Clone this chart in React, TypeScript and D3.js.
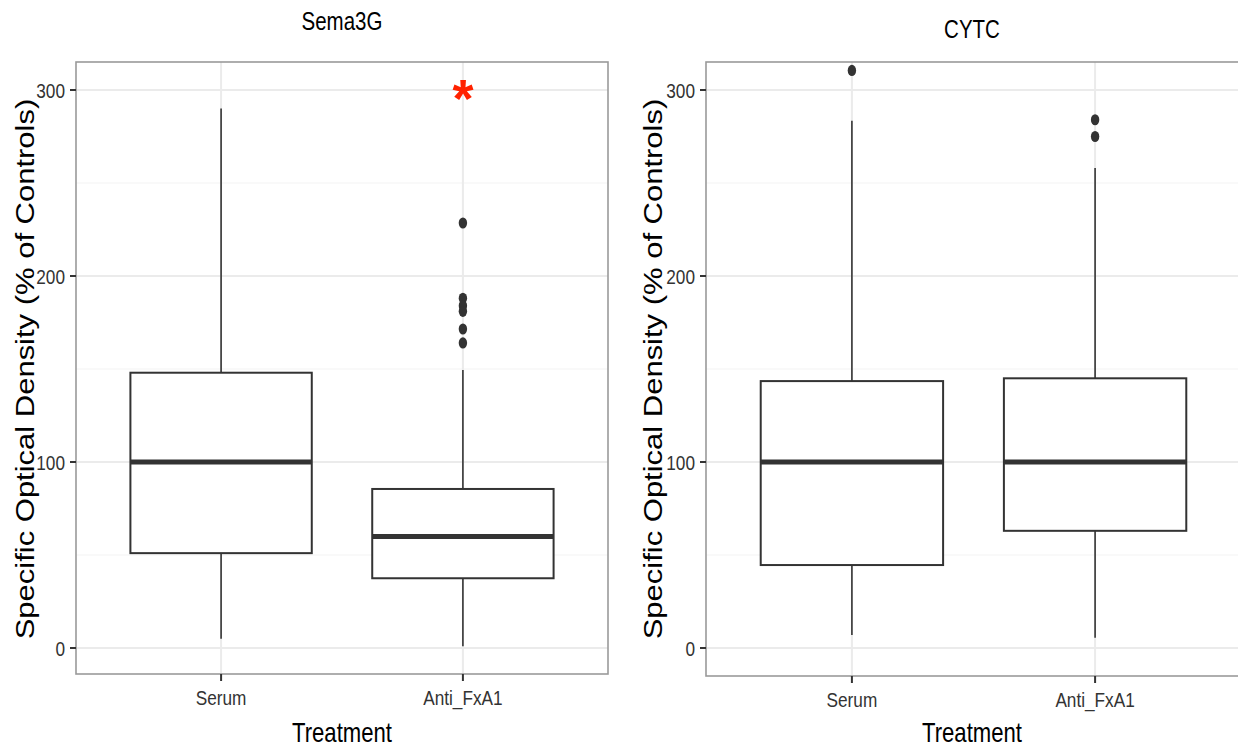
import { scaleLinear, scalePoint } from "d3";

// categories and box stats
const categories = ["Serum", "Anti_FxA1"];
const panelTitles = ["Sema3G", "CYTC"];

const sema3gWhiskerLow = [5, 1];
const sema3gQ1 = [51, 37.5];
const sema3gMedian = [100, 60];
const sema3gQ3 = [148, 85.5];
const sema3gWhiskerHigh = [290, 149.5];
const sema3gOutliers = [[], [228.5, 188, 184, 181, 171.5, 164]];
const sema3gStars = [null, 299];

const cytcWhiskerLow = [7, 5.5];
const cytcQ1 = [44.6, 63];
const cytcMedian = [100, 100];
const cytcQ3 = [143.5, 145];
const cytcWhiskerHigh = [283.5, 258];
const cytcOutliers = [[310.5], [284, 275]];
const cytcStars = [null, null];

const yTicks = [0, 100, 200, 300];
const yMinor = [50, 150, 250];

const W = 1238;
const H = 748;
const FONT = "'Liberation Sans', Arial, Helvetica, sans-serif";
const SX = 0.82; // the figure is squeezed horizontally

const buildRows = (lo, q1, med, q3, hi, outs, stars) =>
  categories.map((c, i) => ({
    cat: c,
    lo: lo[i],
    q1: q1[i],
    med: med[i],
    q3: q3[i],
    hi: hi[i],
    outliers: outs[i],
    star: stars[i],
  }));

const panelData = [
  buildRows(sema3gWhiskerLow, sema3gQ1, sema3gMedian, sema3gQ3, sema3gWhiskerHigh, sema3gOutliers, sema3gStars),
  buildRows(cytcWhiskerLow, cytcQ1, cytcMedian, cytcQ3, cytcWhiskerHigh, cytcOutliers, cytcStars),
];

const layouts = [
  { left: 76, right: 608, top: 62, bottom: 674, titleY: 30, yTitleX: 34 },
  { left: 706, right: 1241, top: 62, bottom: 676, titleY: 38, yTitleX: 662 },
];

const Panel = ({ title, rows, lay }) => {
  const x = scalePoint<string>()
    .domain(categories)
    .range([lay.left, lay.right])
    .padding(0.6);
  // zero and 300 sit at the same heights in both panels
  const y = scaleLinear().domain([0, 300]).range([648, 90]);
  const boxW = x.step() * 0.75;
  const cx = (lay.left + Math.min(lay.right, W)) / 2;
  const midY = (y(0) + y(300)) / 2;

  return (
    <g>
      <text
        transform={`translate(${cx},${lay.titleY}) scale(${SX},1)`}
        textAnchor="middle"
        fontFamily={FONT}
        fontSize={25}
        fill="#000"
      >
        {title}
      </text>

      <rect x={lay.left} y={lay.top} width={lay.right - lay.left} height={lay.bottom - lay.top} fill="#fff" />
      {yMinor.map((v) => (
        <line key={"m" + v} x1={lay.left} x2={lay.right} y1={y(v)} y2={y(v)} stroke="#f4f4f4" strokeWidth={1.2} />
      ))}
      {yTicks.map((v) => (
        <line key={"g" + v} x1={lay.left} x2={lay.right} y1={y(v)} y2={y(v)} stroke="#ebebeb" strokeWidth={2} />
      ))}
      {categories.map((c) => (
        <line key={"v" + c} x1={x(c)} x2={x(c)} y1={lay.top} y2={lay.bottom} stroke="#ebebeb" strokeWidth={2} />
      ))}

      {rows.map((d) => {
        const px = x(d.cat);
        return (
          <g key={d.cat}>
            <line x1={px} x2={px} y1={y(d.hi)} y2={y(d.q3)} stroke="#333" strokeWidth={1.6} />
            <line x1={px} x2={px} y1={y(d.q1)} y2={y(d.lo)} stroke="#333" strokeWidth={1.6} />
            <rect
              x={px - boxW / 2}
              y={y(d.q3)}
              width={boxW}
              height={y(d.q1) - y(d.q3)}
              fill="#fff"
              stroke="#333"
              strokeWidth={2}
            />
            <line x1={px - boxW / 2} x2={px + boxW / 2} y1={y(d.med)} y2={y(d.med)} stroke="#333" strokeWidth={5} />
            {d.outliers.map((o, i) => (
              <ellipse key={i} cx={px} cy={y(o)} rx={4.2} ry={5.6} fill="#333" />
            ))}
            {d.star != null && (
              <text
                x={px}
                y={y(d.star) + 25}
                textAnchor="middle"
                fontFamily={FONT}
                fontWeight="bold"
                fontSize={54}
                fill="#ff2200"
              >
                *
              </text>
            )}
          </g>
        );
      })}

      <rect
        x={lay.left}
        y={lay.top}
        width={lay.right - lay.left}
        height={lay.bottom - lay.top}
        fill="none"
        stroke="#9a9a9a"
        strokeWidth={1.6}
      />

      {yTicks.map((v) => (
        <g key={"t" + v}>
          <line x1={lay.left - 6} x2={lay.left} y1={y(v)} y2={y(v)} stroke="#333" strokeWidth={2} />
          <text
            transform={`translate(${lay.left - 11},${y(v) + 7.5}) scale(${SX},1)`}
            textAnchor="end"
            fontFamily={FONT}
            fontSize={21}
            fill="#333"
          >
            {v}
          </text>
        </g>
      ))}
      {categories.map((c) => (
        <g key={"xt" + c}>
          <line x1={x(c)} x2={x(c)} y1={lay.bottom} y2={lay.bottom + 7} stroke="#333" strokeWidth={2} />
          <text
            transform={`translate(${x(c)},${lay.bottom + 31}) scale(${SX},1)`}
            textAnchor="middle"
            fontFamily={FONT}
            fontSize={21}
            fill="#333"
          >
            {c}
          </text>
        </g>
      ))}

      <text
        transform={`translate(${cx},${lay.bottom + 68 + (lay.left > 100 ? -2 : 0)}) scale(${SX},1)`}
        textAnchor="middle"
        fontFamily={FONT}
        fontSize={27}
        fill="#000"
      >
        Treatment
      </text>
      <text
        transform={`translate(${lay.yTitleX},${midY}) scale(${SX},1) rotate(-90)`}
        textAnchor="middle"
        fontFamily={FONT}
        fontSize={31}
        fill="#000"
      >
        Specific Optical Density (% of Controls)
      </text>
    </g>
  );
};

export default function App() {
  return (
    <svg
      width={W}
      height={H}
      style={{ position: "absolute", left: 0, top: 0, background: "#fff" }}
    >
      <rect width={W} height={H} fill="#fff" />
      {panelTitles.map((t, i) => (
        <Panel key={t} title={t} rows={panelData[i]} lay={layouts[i]} />
      ))}
    </svg>
  );
}
